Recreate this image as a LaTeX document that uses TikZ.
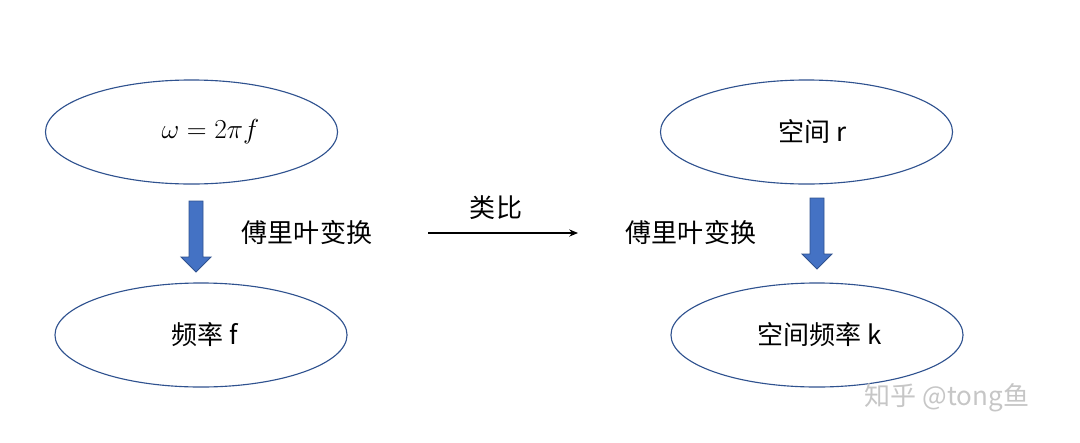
\documentclass[tikz,border=0pt]{standalone}
\usepackage{fontspec}
\usepackage{xcolor}
\usepackage{tikz}
\usetikzlibrary{arrows.meta,positioning,shapes.geometric}

\newfontfamily\cjk{Noto Sans CJK SC}
\definecolor{rimblue}{HTML}{2F528F}
\definecolor{fillblue}{HTML}{4472C4}

\begin{document}
\begin{tikzpicture}[
  x=0.025cm, y=-0.025cm,
  blob/.style={ellipse, draw=rimblue, line width=0.8pt, minimum width=7.3cm,
               minimum height=2.6cm, inner sep=0pt, align=center,
               font=\cjk\fontsize{18.5}{22}\selectfont},
  label/.style={inner sep=0pt, font=\cjk\fontsize{18.5}{22}\selectfont},
  analog/.style={-{Stealth[length=2.2mm, width=1.8mm]}, line width=0.8pt},
  fatdown/.pic={
    \draw[fill=fillblue, draw=rimblue, line width=0.6pt]
      (-7,0) -- (7,0) -- (7,56) -- (15,56) -- (0,71) -- (-15,56) -- (-7,56) -- cycle;
  },
]
\useasboundingbox (0,0) rectangle (1080,442);

% Time domain
\node[blob] (omega) at (191.5,132)
  {\hspace{0.95cm}\scalebox{1.13}{$\omega = 2\pi f$}};
\node[blob] (freq) at (201,335) {\hspace{0.2cm}频率 f};
\pic at (196,201) {fatdown};
\node[label] (ftl) at (307,233) {傅里叶变换};

% Space domain
\node[blob] (space) at (806.5,132) {\hspace{0.3cm}空间 r};
\node[blob] (wave) at (817,335) {\hspace{0.15cm}空间频率 k};
\pic at (817,198) {fatdown};
\node[label] (ftr) at (691,233) {傅里叶变换};

% Analogy
\coordinate (ab) at (428,233);
\coordinate (ae) at (578,233);
\draw[analog] (ab) -- (ae);
\node[label] (ana) at (496,208) {类比};

% Watermark
\node[label, text=gray!45] (mark) at (947,398) {知乎 @tong鱼};

\end{tikzpicture}
\end{document}
